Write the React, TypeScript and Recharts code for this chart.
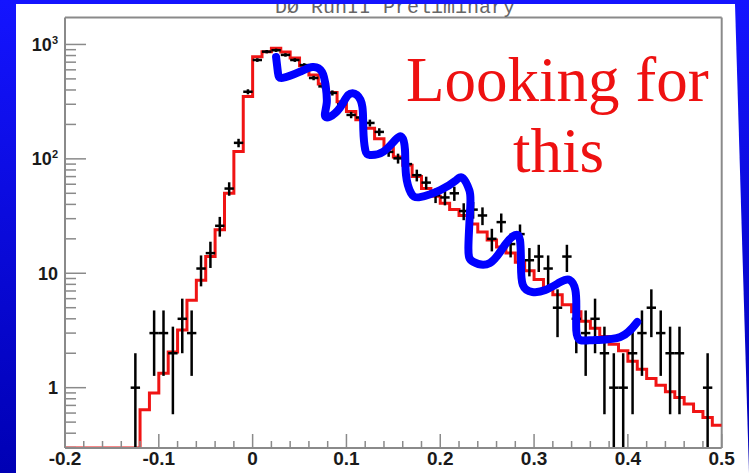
import { ComposedChart, Line, Scatter, ErrorBar, XAxis, YAxis, ReferenceLine } from 'recharts';

const W = 749;
const H = 473;

// log axis range
const Y_MIN = 0.297;
const Y_MAX = 1720;

// simulated histogram: 0.01 wide bins from -0.20 to 0.50 (0 = empty bin)
const binLow = -0.2;
const binStep = 0.01;
const mcCounts = [
  0, 0, 0, 0, 0, 0, 0, 0, 0.64, 0.9,
  1.34, 2.05, 3.2, 5.8, 8.7, 14, 24, 50, 116, 350,
  780, 865, 925, 860, 760, 650, 540, 450, 380, 315,
  260, 220, 185, 150, 125, 104, 88, 70, 55, 47,
  41, 36, 32, 27, 23, 19.5, 17, 15, 12.5, 10.5,
  8.8, 7.5, 6.5, 5.3, 4.6, 3.8, 3.3, 2.8, 2.4, 2.1,
  1.7, 1.45, 1.2, 1.05, 0.92, 0.82, 0.72, 0.62, 0.55, 0.47,
];

// measured points (bin centres and counts)
const dataX = [
  -0.125, -0.105, -0.095, -0.085, -0.075, -0.065, -0.055, -0.045, -0.035, -0.025,
  -0.015, -0.005, 0.005, 0.015, 0.025, 0.035, 0.045, 0.055, 0.065, 0.075,
  0.085, 0.095, 0.105, 0.115, 0.125, 0.135, 0.145, 0.155, 0.165, 0.175,
  0.185, 0.195, 0.205, 0.215, 0.225, 0.235, 0.245, 0.255, 0.265, 0.275,
  0.285, 0.295, 0.305, 0.315, 0.325, 0.335, 0.345, 0.355, 0.365, 0.375,
  0.385, 0.395, 0.405, 0.415, 0.425, 0.435, 0.445, 0.455, 0.485,
];
const dataN = [
  1, 3, 3, 2, 4, 3, 11, 15, 26, 55,
  138, 386, 731, 865, 890, 810, 731, 660, 509, 430,
  377, 300, 242, 230, 206, 172, 115, 101, 90, 72,
  62, 48, 46, 50, 35, 36, 32, 20, 28, 18,
  22, 13, 14, 11, 5, 14, 4, 3, 4, 2,
  1, 1, 2, 3, 5, 3, 2, 2, 1,
];

// hand-drawn blue squiggle, traced in data coordinates
const waveX = [
  0.025, 0.027, 0.032, 0.05, 0.064, 0.074, 0.078, 0.079, 0.077, 0.082,
  0.093, 0.102, 0.111, 0.117, 0.118, 0.12, 0.125, 0.139, 0.152, 0.159,
  0.1624, 0.1635, 0.1688, 0.1784, 0.2, 0.216, 0.224, 0.231, 0.232, 0.23,
  0.235, 0.253, 0.269, 0.28, 0.285, 0.286, 0.288, 0.298, 0.312, 0.328,
  0.338, 0.344, 0.345, 0.345, 0.349, 0.365, 0.392, 0.41,
];
const waveY = [
  778, 564, 510, 575, 636, 575, 425, 308, 242, 233,
  279, 362, 362, 284, 179, 120, 108, 115, 146, 155,
  120, 72.3, 50.3, 46.3, 53.2, 64.1, 68.1, 53.2, 38, 17,
  12.6, 12.3, 17.7, 21.6, 19.5, 12.3, 7.9, 6.86, 7.13, 8.37,
  8.74, 7.13, 4.77, 3.18, 2.61, 2.61, 2.77, 3.75,
];

const xMajor = [-0.2, -0.1, 0, 0.1, 0.2, 0.3, 0.4, 0.5];
const xTicks = Array.from({ length: 36 }, (_, i) => +(-0.2 + i * 0.02).toFixed(2));
const yMajor = [1, 10, 100, 1000];
const yTicks = [0.3, 0.4, 0.5, 0.6, 0.7, 0.8, 0.9, 1, 2, 3, 4, 5, 6, 7, 8, 9, 10,
  20, 30, 40, 50, 60, 70, 80, 90, 100, 200, 300, 400, 500, 600, 700, 800, 900, 1000];

const mcData = mcCounts
  .map((v, i) => ({ x: +(binLow + i * binStep).toFixed(2), y: v > 0 ? v : Y_MIN }))
  .concat([{ x: 0.5, y: mcCounts[mcCounts.length - 1] }]);

const pointData = dataX.map((x, i) => {
  const n = dataN[i];
  const s = Math.sqrt(n);
  return { x, y: n, ey: [Math.min(s, n - Y_MIN), s], ex: binStep / 2 };
});

const waveData = waveX.map((x, i) => ({ x, y: waveY[i] }));

const axisGrey = '#8a8a8a';
const labelFont = '"Liberation Sans", Arial, sans-serif';

const XTick = (props: any) => {
  const { x, y, payload } = props;
  const v = payload.value;
  const major = xMajor.some((m) => Math.abs(m - v) < 1e-6);
  return (
    <g>
      <line x1={x} x2={x} y1={y} y2={y - (major ? 14 : 7)} stroke={axisGrey} strokeWidth={1.5} />
      {major && (
        <text x={x} y={y + 17} textAnchor="middle" fontFamily={labelFont} fontWeight="bold" fontSize={19} fill="#1a1a1a">
          {String(v)}
        </text>
      )}
    </g>
  );
};

const YTick = (props: any) => {
  const { x, y, payload } = props;
  const v = payload.value;
  const major = yMajor.includes(v);
  let label: any = null;
  if (major) {
    const exp = Math.round(Math.log10(v));
    label = (
      <text x={x - 7} y={y} dy="0.35em" textAnchor="end" fontFamily={labelFont} fontWeight="bold" fontSize={18} fill="#1a1a1a">
        {exp >= 2 ? '10' : String(v)}
        {exp >= 2 && (
          <tspan dy={-7} fontSize={11}>
            {exp}
          </tspan>
        )}
      </text>
    );
  }
  return (
    <g>
      <line x1={x} x2={x + (major ? 21 : 11)} y1={y} y2={y} stroke={axisGrey} strokeWidth={1.5} />
      {label}
    </g>
  );
};

export default function App() {
  return (
    <div
      style={{
        position: 'absolute',
        left: 0,
        top: 0,
        width: W,
        height: H,
        overflow: 'hidden',
        background: 'linear-gradient(to bottom, #1414ff, #0000b4)',
      }}
    >
      <div
        style={{
          position: 'absolute',
          left: 16,
          top: 4,
          width: 733,
          height: 469,
          background: '#ffffff',
          clipPath: 'polygon(0 0, 719px 0, 733px 469px, 0 469px)',
        }}
      />
      <div style={{ position: 'absolute', left: 0, top: 0 }}>
        <ComposedChart width={W} height={H} margin={{ top: 17.5, right: 27.3, bottom: 0, left: 0 }}>
          <XAxis
            type="number"
            dataKey="x"
            domain={[-0.2, 0.5]}
            allowDataOverflow
            ticks={xTicks}
            interval={0}
            height={25}
            tickSize={0}
            tickMargin={0}
            tickLine={false}
            tick={<XTick />}
            axisLine={{ stroke: axisGrey, strokeWidth: 2 }}
          />
          <YAxis
            type="number"
            dataKey="y"
            scale="log"
            domain={[Y_MIN, Y_MAX]}
            allowDataOverflow
            ticks={yTicks}
            interval={0}
            width={65}
            tickSize={0}
            tickMargin={0}
            tickLine={false}
            tick={<YTick />}
            axisLine={{ stroke: axisGrey, strokeWidth: 2 }}
          />
          <ReferenceLine y={Y_MAX} stroke={axisGrey} strokeWidth={2} />
          <ReferenceLine x={0.5} stroke={axisGrey} strokeWidth={2} />
          <Line
            data={mcData}
            dataKey="y"
            type="stepAfter"
            stroke="#f01414"
            strokeWidth={3}
            dot={false}
            isAnimationActive={false}
          />
          <Scatter data={pointData} dataKey="y" shape={() => <g />} isAnimationActive={false}>
            <ErrorBar dataKey="ey" direction="y" width={0} stroke="#000" strokeWidth={2.5} isAnimationActive={false} />
            <ErrorBar dataKey="ex" direction="x" width={0} stroke="#000" strokeWidth={2.5} isAnimationActive={false} />
          </Scatter>
          <Line
            data={waveData}
            dataKey="y"
            type="natural"
            stroke="#0000ff"
            strokeWidth={8}
            strokeLinecap="round"
            strokeLinejoin="round"
            dot={false}
            isAnimationActive={false}
          />
        </ComposedChart>
      </div>
      <svg width={W} height={H} style={{ position: 'absolute', left: 0, top: 0, pointerEvents: 'none' }}>
        <defs>
          <clipPath id="panelTop">
            <rect x={16} y={4} width={720} height={40} />
          </clipPath>
        </defs>
        <text x={275} y={13} clipPath="url(#panelTop)" fontFamily='"Liberation Mono", monospace' fontSize={20} fill="#666">
          DØ RunII Preliminary
        </text>
        <g fontFamily='"Liberation Serif", "Times New Roman", serif' fontSize={63} fill="#ee1111">
          <text x={406} y={101}>Looking for</text>
          <text x={513} y={172}>this</text>
        </g>
      </svg>
    </div>
  );
}
